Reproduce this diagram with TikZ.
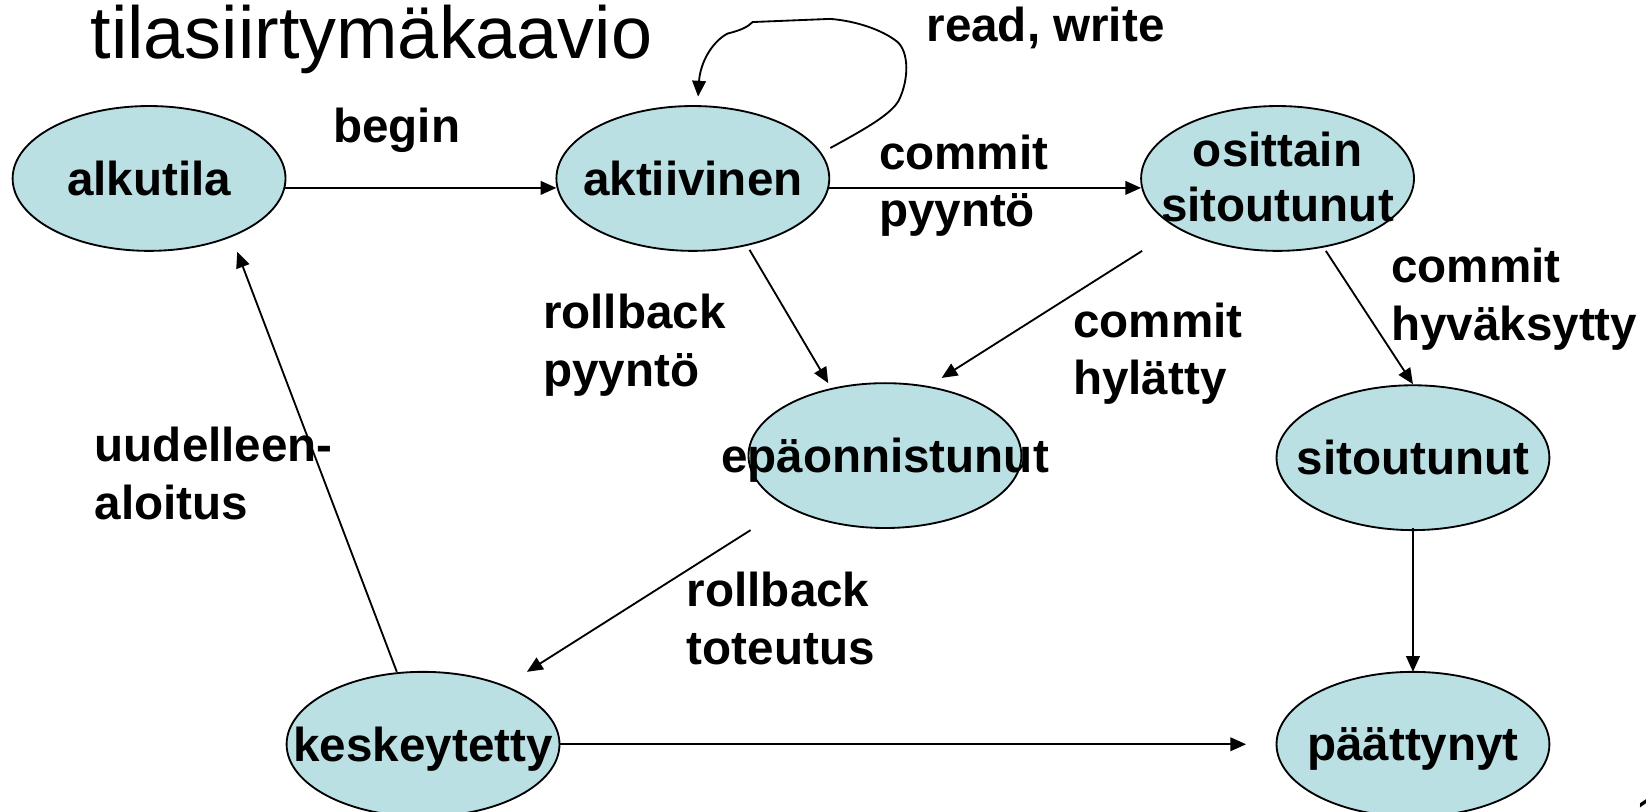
\documentclass[tikz,border=0pt]{standalone}
\usepackage{fontspec}
\setmainfont{Liberation Sans}
\usetikzlibrary{arrows.meta,shapes.geometric}
\definecolor{stfill}{RGB}{186,224,227}
\tikzset{
  st/.style={ellipse, draw=black, line width=1pt, fill=stfill, minimum width=5.2cm, minimum height=2.76cm, inner sep=0pt,
    font=\fontsize{25.8}{29.5}\selectfont\bfseries},
  st1/.style={st, text depth=0pt},
  lbl/.style={inner sep=0pt, align=left, anchor=west, font=\fontsize{25.8}{31.3}\selectfont\bfseries},
  arr/.style={line width=1pt, -{Triangle[length=0.3cm,width=0.26cm]}},
}
\begin{document}
\begin{tikzpicture}[x=0.02cm,y=-0.02cm]
\useasboundingbox (0,0) rectangle (1568,773);
% title
\node[anchor=base west, inner sep=0pt, font=\fontsize{40}{44}\selectfont] (title) at (86,56) {tilasiirtymäkaavio};
\node[anchor=north west, inner sep=0pt, font=\fontsize{28}{30}\selectfont] (pg) at (1558,760) {1};
% states
\node[st1] (alk) at (142,170) {\makebox[0pt]{alkutila}};
\node[st1] (akt) at (660,170) {\makebox[0pt]{aktiivinen}};
\node[st] (osi) at (1217,170) {\makebox[0pt]{\raisebox{0.22cm}[0pt][0pt]{\begin{tabular}[t]{@{}c@{}}osittain\\sitoutunut\end{tabular}}}};
\node[st1] (epa) at (843,434) {\makebox[0pt]{epäonnistunut}};
\node[st1] (sit) at (1346,436) {\makebox[0pt]{sitoutunut}};
\node[st1] (kes) at (403,709) {\makebox[0pt]{keskeytetty}};
\node[st1] (pat) at (1346,709) {\makebox[0pt]{päättynyt}};
% labels
\node[lbl, anchor=center] (lbegin) at (378,124) {begin};
\node[lbl, anchor=center] (lrw) at (996,27) {read, write};
\node[lbl] (lcp) at (837,177) {commit\\pyyntö};
\node[lbl] (lrp) at (517,329) {rollback\\pyyntö};
\node[lbl] (lch) at (1022,337) {commit\\hylätty};
\node[lbl] (lchv) at (1325,285) {commit\\hyväksytty};
\node[lbl] (lua) at (90,451) {uudelleen-\\aloitus};
\node[lbl] (lrt) at (654,589) {rollback\\toteutus};
% connectors
\draw[arr] ([shift={(129,9)}]alk.center) -- ([shift={(-130,9)}]akt.center);
\draw[arr] ([shift={(130,9)}]akt.center) -- ([shift={(-130,9)}]osi.center);
\draw[arr] ([shift={(54,68)}]akt.center) -- ([shift={(-54,-69)}]epa.center);
\draw[arr] ([shift={(-129,69)}]osi.center) -- ([shift={(54,-74)}]epa.center);
\draw[arr] ([shift={(46,69)}]osi.center) -- ([shift={(0,-70)}]sit.center);
\draw[arr] ([shift={(0,67)}]sit.center) -- ([shift={(0,-69)}]pat.center);
\draw[arr] ([shift={(-128,71)}]epa.center) -- ([shift={(99,-69)}]kes.center);
\draw[arr] ([shift={(-25,-69)}]kes.center) -- ([shift={(84,70)}]alk.center);
\draw[arr] ([shift={(130,0)}]kes.center) -- ([shift={(-159,0)}]pat.center);
% self loop
\draw[arr] ([shift={(131,-29)}]akt.center)
  .. controls (820,125) and (848,110) .. (856,96)
  .. controls (866,76) and (866,50) .. (855,40)
  .. controls (840,28) and (815,20) .. (791,18)
  -- (717,21)
  .. controls (712,26) and (705,29) .. (693,32)
  .. controls (678,40) and (667,60) .. ([shift={(5,-78)}]akt.center);
\end{tikzpicture}
\end{document}
